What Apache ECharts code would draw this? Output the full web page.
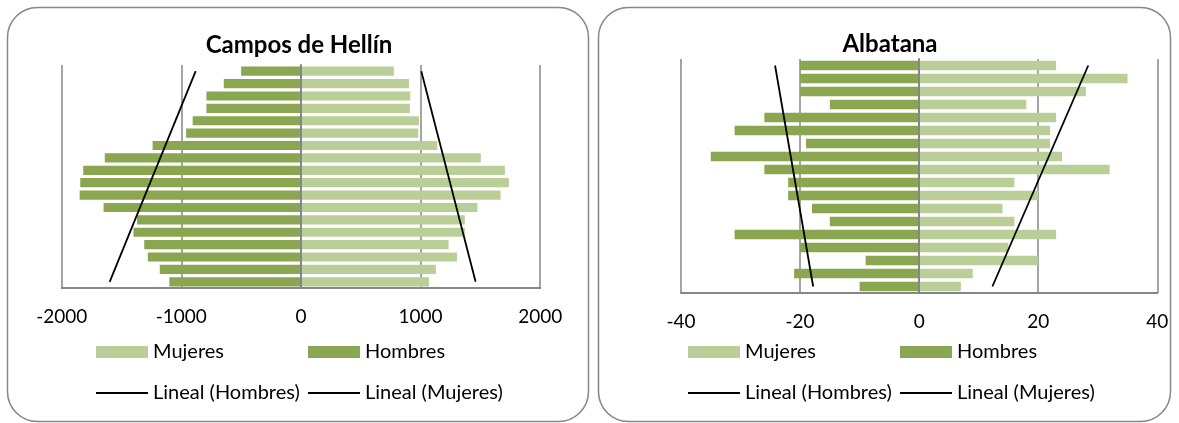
<!DOCTYPE html>
<html lang="es">
<head>
  <meta charset="UTF-8">
  <title>Pirámides de población</title>
  <script src="https://cdn.jsdelivr.net/npm/echarts@6/dist/echarts.min.js"></script>
  <style>
    body { margin: 0; background: #fff; }
    #chart { width: 1179px; height: 423px; }
  </style>
</head>
<body>
  <div id="chart"></div>
  <script>
    // grupos de edad, de abajo (0-4) hacia arriba (85+)
    const edades = ['0-4','5-9','10-14','15-19','20-24','25-29','30-34','35-39','40-44',
                    '45-49','50-54','55-59','60-64','65-69','70-74','75-79','80-84','85+'];

    // Campos de Hellín
    const hellinHombres = [-1100,-1180,-1280,-1310,-1400,-1370,-1650,-1850,-1845,
                           -1820,-1640,-1240,-960,-905,-790,-790,-645,-500];
    const hellinMujeres = [1070,1128,1304,1234,1370,1370,1476,1669,1738,
                           1705,1504,1140,981,986,911,914,903,777];
    // líneas de tendencia: valor en el primer y en el último grupo
    const hellinLinealHombres = [-1599, -880];
    const hellinLinealMujeres = [1460, 1006];
    const hellinTicks = [-2000, 2000, 1000];

    // Albatana
    const albaHombres = [-10,-21,-9,-20,-31,-15,-18,-22,-22,-26,-35,-19,-31,-26,-15,-20,-20,-20];
    const albaMujeres = [7,9,20,15,23,16,14,20,16,32,24,22,22,23,18,28,35,23];
    const albaLinealHombres = [-17.8, -24.2];
    const albaLinealMujeres = [12.3, 28.4];
    const albaTicks = [-40, 40, 20];

    const chart = echarts.init(document.getElementById('chart'));
    const FONT = 'Lato';
    const OSCURO = '#8aa650';
    const CLARO = '#bacf98';
    const GRIS = '#868686';

    function ejeX(idx, ticks) {
      return {
        type: 'value', gridIndex: idx,
        min: ticks[0], max: ticks[1], interval: ticks[2],
        axisLine: { show: true, onZero: false, lineStyle: { color: GRIS, width: 2 } },
        axisTick: { show: false },
        axisLabel: { margin: 19, color: '#000', fontFamily: FONT, fontSize: 19,
                     formatter: v => String(v) },
        splitLine: { show: true, lineStyle: { color: GRIS, width: 1.5 } }
      };
    }
    function ejeY(idx) {
      return {
        type: 'category', gridIndex: idx, data: edades, z: 5,
        axisLine: { show: true, onZero: true, lineStyle: { color: GRIS, width: 2 } },
        axisTick: { show: false },
        axisLabel: { show: false },
        splitLine: { show: false }
      };
    }
    function barras(idx, name, data, color) {
      return {
        type: 'bar', name, data, xAxisIndex: idx, yAxisIndex: idx,
        barGap: '-100%', barCategoryGap: '26%',
        itemStyle: { color }, silent: true
      };
    }
    function tendencia(idx, name, ends) {
      return {
        type: 'line', name, xAxisIndex: idx, yAxisIndex: idx,
        data: [[ends[0], edades[0]], [ends[1], edades[edades.length - 1]]],
        symbol: 'none', silent: true, z: 4,
        itemStyle: { color: '#000' },
        lineStyle: { color: '#000', width: 1.8 }
      };
    }
    function leyenda(name, x, y, tipo) {
      return {
        data: [name], left: x, top: y, padding: 0,
        itemWidth: 52, itemHeight: tipo === 'rect' ? 12 : 2,
        icon: 'rect',
        textStyle: { fontFamily: FONT, fontSize: 20, color: '#000' },
        selectedMode: false
      };
    }

    const option = {
      animation: false,
      graphic: [
        { type: 'rect', shape: { x: 7.5, y: 7.5, width: 581, height: 414, r: 30 },
          style: { fill: 'none', stroke: GRIS, lineWidth: 1.5 } },
        { type: 'rect', shape: { x: 598.5, y: 7.5, width: 572, height: 414, r: 30 },
          style: { fill: 'none', stroke: GRIS, lineWidth: 1.5 } },
        { type: 'text', x: 299, y: 45,
          style: { text: 'Campos de Hellín', font: 'bold 24px Lato', fill: '#000',
                   textAlign: 'center', textVerticalAlign: 'middle' } },
        { type: 'text', x: 890, y: 44,
          style: { text: 'Albatana', font: 'bold 24px Lato', fill: '#000',
                   textAlign: 'center', textVerticalAlign: 'middle' } }
      ],
      grid: [
        { left: 61.7, top: 65, width: 478.5, height: 223 },
        { left: 681, top: 59, width: 476.3, height: 234 }
      ],
      xAxis: [ejeX(0, hellinTicks), ejeX(1, albaTicks)],
      yAxis: [ejeY(0), ejeY(1)],
      legend: [
        leyenda('Mujeres', 96, 342, 'rect'),
        leyenda('Hombres', 308, 342, 'rect'),
        leyenda('Lineal (Hombres)', 96, 383, 'line'),
        leyenda('Lineal (Mujeres)', 308, 383, 'line'),
        leyenda('Mujeres', 688, 342, 'rect'),
        leyenda('Hombres', 900, 342, 'rect'),
        leyenda('Lineal (Hombres)', 688, 383, 'line'),
        leyenda('Lineal (Mujeres)', 900, 383, 'line')
      ],
      series: [
        barras(0, 'Hombres', hellinHombres, OSCURO),
        barras(0, 'Mujeres', hellinMujeres, CLARO),
        tendencia(0, 'Lineal (Hombres)', hellinLinealHombres),
        tendencia(0, 'Lineal (Mujeres)', hellinLinealMujeres),
        barras(1, 'Hombres', albaHombres, OSCURO),
        barras(1, 'Mujeres', albaMujeres, CLARO),
        tendencia(1, 'Lineal (Hombres)', albaLinealHombres),
        tendencia(1, 'Lineal (Mujeres)', albaLinealMujeres)
      ]
    };
    chart.setOption(option);
  </script>
</body>
</html>
